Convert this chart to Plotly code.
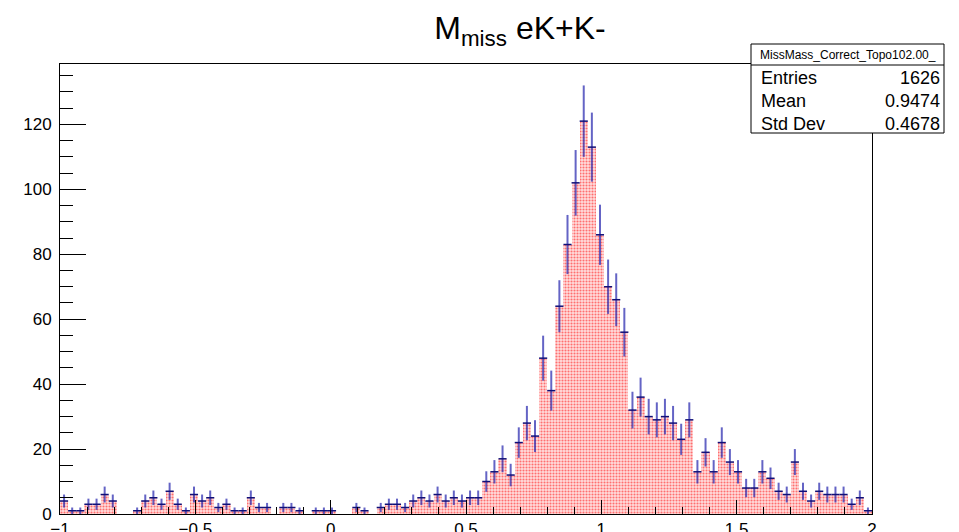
import numpy as np
import plotly.graph_objects as go

# Histogram binning: 100 bins between -1 and 2
x_min, x_max, n_bins = -1.0, 2.0, 100

# Bin contents (counts per bin), left to right
counts = [
    4, 1, 1, 3, 3, 6, 4, 0, 0, 1,
    4, 5, 3, 7, 3, 1, 6, 4, 5, 2,
    3, 1, 1, 5, 2, 2, 0, 2, 2, 1,
    0, 1, 1, 1, 0, 0, 2, 1, 0, 2,
    3, 3, 2, 4, 5, 4, 6, 4, 5, 4,
    5, 5, 10, 13, 17, 12, 22, 28, 24, 48,
    38, 64, 83, 102, 121, 113, 86, 70, 66, 56,
    32, 36, 30, 29, 30, 28, 23, 29, 13, 19,
    13, 22, 16, 13, 8, 8, 13, 11, 7, 6,
    16, 7, 4, 7, 6, 6, 6, 3, 5, 1,
]

# Statistics box contents
stats_name = "MissMass_Correct_Topo102.00_"
stats_labels = ["Entries", "Mean", "Std Dev"]
stats_values = ["1626", "0.9474", "0.4678"]

x_ticks = [-1, -0.5, 0, 0.5, 1, 1.5, 2]
x_tick_text = ["\u22121", "\u22120.5", "0", "0.5", "1", "1.5", "2"]
y_ticks = [0, 20, 40, 60, 80, 100, 120]

edges = np.linspace(x_min, x_max, n_bins + 1)
centers = 0.5 * (edges[:-1] + edges[1:])
bin_w = edges[1] - edges[0]
counts = np.array(counts, dtype=float)
errors = np.sqrt(counts)

W, H = 959, 532
L, R, T, B = 60, 872, 64, 514          # frame in pixels
FONT = "Liberation Sans, Arial, Helvetica, sans-serif"

fig = go.Figure()

# Filled histogram with a dotted red pattern
fig.add_trace(go.Bar(
    x=centers, y=counts, width=bin_w,
    marker=dict(
        color="rgb(255,222,222)",
        line=dict(width=0),
        pattern=dict(shape=".", fgcolor="red", size=3, solidity=0.4,
                     fillmode="overlay"),
    ),
    hoverinfo="skip",
))

# Error bars (only bins with content)
nz = counts > 0
fig.add_trace(go.Scatter(
    x=centers[nz], y=counts[nz], mode="markers",
    marker=dict(size=0.1, color="rgba(0,0,0,0)"),
    error_y=dict(type="data", array=errors[nz], visible=True,
                 color="rgba(40,40,175,0.72)", thickness=2, width=0),
    error_x=dict(type="constant", value=bin_w / 2, visible=True,
                 color="rgb(16,16,120)", thickness=1.5, width=0),
    hoverinfo="skip",
))

y_top = float(np.max(counts + errors)) * 1.05

def px_x(p):
    return (p - L) / (R - L)

def px_y(p):
    return (B - p) / (B - T)

fig.update_layout(
    width=W, height=H, autosize=False,
    margin=dict(l=L, r=W - R, t=T, b=H - B),
    paper_bgcolor="white", plot_bgcolor="white",
    showlegend=False, bargap=0,
    font=dict(family=FONT, color="black", size=17),
    title=dict(
        text="M<sub>miss</sub> eK+K-",
        font=dict(family=FONT, size=32, color="black"),
        x=520 / W, xref="container", xanchor="center",
        y=1 - 28 / H, yref="container", yanchor="middle",
        automargin=False,
    ),
    xaxis=dict(
        range=[x_min, x_max], showgrid=False, zeroline=False,
        automargin=False,
        showline=True, linecolor="black", linewidth=1, mirror=True,
        tickvals=x_ticks, ticktext=x_tick_text,
        ticks="inside", ticklen=14, tickcolor="black", tickwidth=1,
        tickfont=dict(size=17), ticklabelstandoff=0,
        minor=dict(dtick=0.1, tick0=0, ticks="inside", ticklen=7,
                   tickcolor="black", tickwidth=1, showgrid=False),
    ),
    yaxis=dict(
        range=[0, y_top], showgrid=False, zeroline=False,
        automargin=False,
        showline=True, linecolor="black", linewidth=1, mirror=True,
        tickvals=y_ticks,
        ticks="inside", ticklen=26, tickcolor="black", tickwidth=1,
        tickfont=dict(size=17), ticklabelstandoff=4,
        minor=dict(dtick=5, tick0=0, ticks="inside", ticklen=13,
                   tickcolor="black", tickwidth=1, showgrid=False),
    ),
)

# Statistics box
bx0, bx1, by0, by1, bymid = 751, 944, 44, 133, 65
fig.add_shape(type="rect", xref="paper", yref="paper",
              x0=px_x(bx0), x1=px_x(bx1), y0=px_y(by1), y1=px_y(by0),
              line=dict(color="black", width=1), fillcolor="white", layer="above")
fig.add_shape(type="line", xref="paper", yref="paper",
              x0=px_x(bx0), x1=px_x(bx1), y0=px_y(bymid), y1=px_y(bymid),
              line=dict(color="black", width=1), layer="above")
fig.add_annotation(xref="paper", yref="paper", x=px_x((bx0 + bx1) / 2),
                   y=px_y(55), text=stats_name, showarrow=False,
                   xanchor="center", yanchor="middle",
                   font=dict(family=FONT, size=12, color="black"))
row_y = [78, 101, 124]
for lab, val, yy in zip(stats_labels, stats_values, row_y):
    fig.add_annotation(xref="paper", yref="paper", x=px_x(759), y=px_y(yy),
                       text=lab, showarrow=False, xanchor="left",
                       yanchor="middle",
                       font=dict(family=FONT, size=18, color="black"))
    fig.add_annotation(xref="paper", yref="paper", x=px_x(942), y=px_y(yy),
                       text=val, showarrow=False, xanchor="right",
                       yanchor="middle",
                       font=dict(family=FONT, size=18, color="black"))

fig.write_html("out.html")
